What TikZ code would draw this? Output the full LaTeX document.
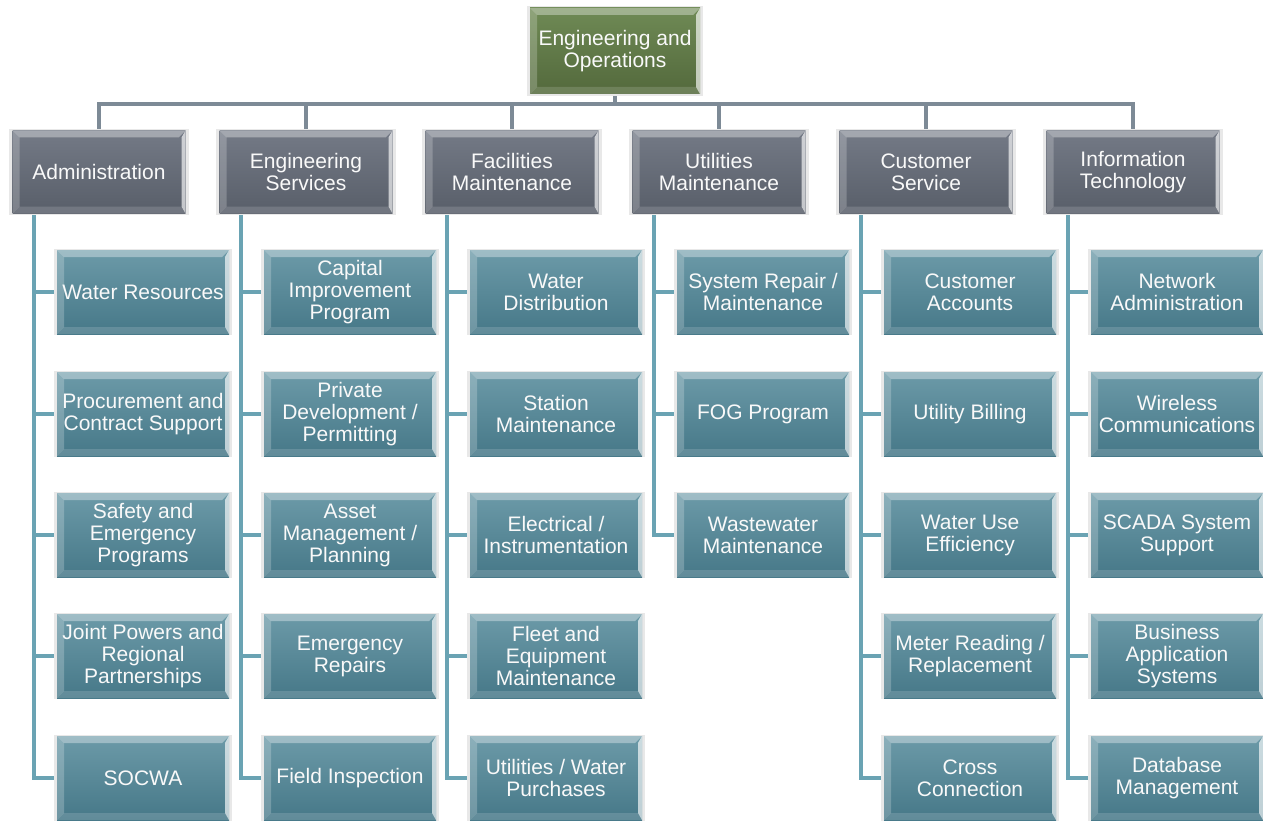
\documentclass[tikz,border=0pt]{standalone}
\usepackage{fontspec}
\setmainfont{Liberation Sans}
\usetikzlibrary{backgrounds,shadows}
\definecolor{topA}{HTML}{6F8A55}
\definecolor{topB}{HTML}{53693C}
\definecolor{grayA}{HTML}{747A86}
\definecolor{grayB}{HTML}{585E69}
\definecolor{tealA}{HTML}{6C9AA8}
\definecolor{tealB}{HTML}{467888}
\definecolor{busgray}{HTML}{7D8A96}
\definecolor{tealline}{HTML}{6AA3B3}
\begin{document}
\begin{tikzpicture}[x=1pt,y=-1pt,
  bevel/.style={path picture={
    \fill[white,opacity=.35] (path picture bounding box.north west) -- (path picture bounding box.north east) -- ([xshift=-7pt,yshift=-7pt]path picture bounding box.north east) -- ([xshift=7pt,yshift=-7pt]path picture bounding box.north west) -- cycle;
    \fill[white,opacity=.22] (path picture bounding box.north west) -- ([xshift=7pt,yshift=-7pt]path picture bounding box.north west) -- ([xshift=7pt,yshift=7pt]path picture bounding box.south west) -- (path picture bounding box.south west) -- cycle;
    \fill[white,opacity=.65] (path picture bounding box.north east) -- ([xshift=-4pt,yshift=-7pt]path picture bounding box.north east) -- ([xshift=-4pt,yshift=7pt]path picture bounding box.south east) -- (path picture bounding box.south east) -- cycle;
    \fill[white,opacity=.15] (path picture bounding box.south west) -- ([xshift=7pt,yshift=7pt]path picture bounding box.south west) -- ([xshift=-4pt,yshift=7pt]path picture bounding box.south east) -- (path picture bounding box.south east) -- cycle;
  }},
  boxbase/.style={bevel, inner sep=0pt, align=center, text=white!95!gray,
    font=\fontsize{21}{22}\selectfont,
    general shadow={fill=gray!18, shadow scale=1.035}},
  topbox/.style={boxbase, minimum width=170, minimum height=86, top color=topA, bottom color=topB},
  lonebox/.style={boxbase, minimum width=173, minimum height=83, top color=grayA, bottom color=grayB},
  ltwobox/.style={boxbase, minimum width=172, minimum height=84, top color=tealA, bottom color=tealB},
  bus/.style={draw=busgray, line width=4pt},
  tline/.style={draw=tealline, line width=4pt}]
\useasboundingbox (0,0) rectangle (1263,824);

\node[topbox] (top) at (615,51) {Engineering and\\Operations};

\node[lonebox] (a1) at (99,172) {Administration};
\node[lonebox] (a2) at (306,172) {Engineering\\Services};
\node[lonebox] (a3) at (512,172) {Facilities\\Maintenance};
\node[lonebox] (a4) at (719,172) {Utilities\\Maintenance};
\node[lonebox] (a5) at (926,172) {Customer\\Service};
\node[lonebox] (a6) at (1133,172) {Information\\Technology};

\node[ltwobox] (c11) at (143,292) {Water Resources};
\node[ltwobox] (c12) at (143,414) {Procurement and\\Contract Support};
\node[ltwobox] (c13) at (143,535) {Safety and\\Emergency\\Programs};
\node[ltwobox] (c14) at (143,656) {Joint Powers and\\Regional\\Partnerships};
\node[ltwobox] (c15) at (143,778) {SOCWA};

\node[ltwobox] (c21) at (350,292) {Capital\\Improvement\\Program};
\node[ltwobox] (c22) at (350,414) {Private\\Development /\\Permitting};
\node[ltwobox] (c23) at (350,535) {Asset\\Management /\\Planning};
\node[ltwobox] (c24) at (350,656) {Emergency\\Repairs};
\node[ltwobox] (c25) at (350,778) {Field Inspection};

\node[ltwobox] (c31) at (556,292) {Water\\Distribution};
\node[ltwobox] (c32) at (556,414) {Station\\Maintenance};
\node[ltwobox] (c33) at (556,535) {Electrical /\\Instrumentation};
\node[ltwobox] (c34) at (556,656) {Fleet and\\Equipment\\Maintenance};
\node[ltwobox] (c35) at (556,778) {Utilities / Water\\Purchases};

\node[ltwobox] (c41) at (763,292) {System Repair /\\Maintenance};
\node[ltwobox] (c42) at (763,414) {FOG Program};
\node[ltwobox] (c43) at (763,535) {Wastewater\\Maintenance};

\node[ltwobox] (c51) at (970,292) {Customer\\Accounts};
\node[ltwobox] (c52) at (970,414) {Utility Billing};
\node[ltwobox] (c53) at (970,535) {Water Use\\Efficiency};
\node[ltwobox] (c54) at (970,656) {Meter Reading /\\Replacement};
\node[ltwobox] (c55) at (970,778) {Cross\\Connection};

\node[ltwobox] (c61) at (1177,292) {Network\\Administration};
\node[ltwobox] (c62) at (1177,414) {Wireless\\Communications};
\node[ltwobox] (c63) at (1177,535) {SCADA System\\Support};
\node[ltwobox] (c64) at (1177,656) {Business\\Application\\Systems};
\node[ltwobox] (c65) at (1177,778) {Database\\Management};

\begin{scope}[on background layer]
  \foreach \i in {1,...,6} {
    \draw[bus] (top.south) -- ++(0,10) -| (a\i.north);
  }
  \foreach \i/\n in {1/5,2/5,3/5,4/3,5/5,6/5} {
    \foreach \j in {1,...,\n} {
      \draw[tline] ([xshift=-65pt]a\i.south) |- (c\i\j.west);
    }
  }
\end{scope}
\end{tikzpicture}
\end{document}
